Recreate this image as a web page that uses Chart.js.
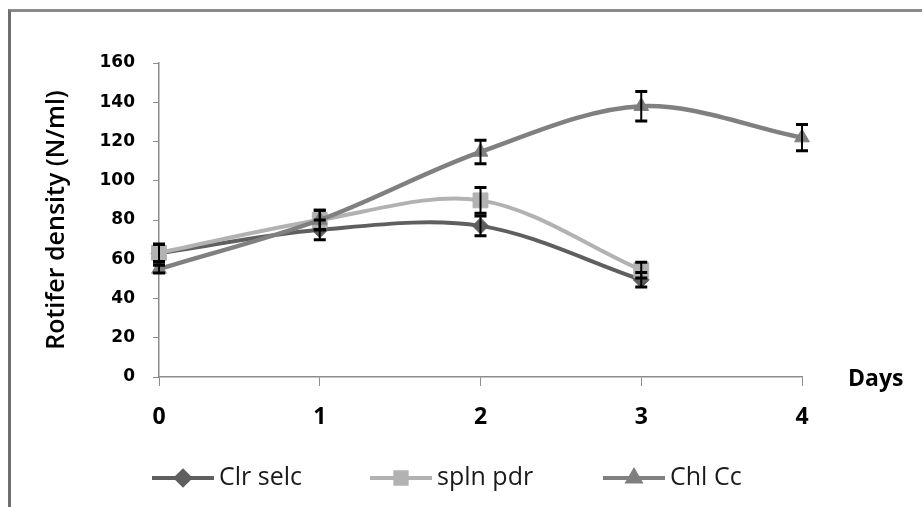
<!DOCTYPE html>
<html>
<head>
<meta charset="utf-8">
<script src="https://cdn.jsdelivr.net/npm/chart.js@4.4.1/dist/chart.umd.min.js"></script>
<style>
  html, body { margin:0; padding:0; background:#fff; }
  #wrap { position:relative; width:922px; height:507px; overflow:hidden; }
  #frame { position:absolute; left:8px; top:9px; width:1000px; height:600px;
           border-top:3px solid #8a8a8a; border-left:3px solid #6e6e6e; }
  #box { position:absolute; left:0; top:0; width:922px; height:507px; }
</style>
</head>
<body>
<div id="wrap">
  <div id="frame"></div>
  <div id="box"><canvas id="chart"></canvas></div>
</div>
<script>
// ─── Data ────────────────────────────────────────────────────────────
const days    = ['0', '1', '2', '3', '4'];
const clrSelc = [63, 75, 77, 49.5];
const clrErr  = [4.5, 5, 5, 3.7];
const splnPdr = [63.3, 80, 90, 54.5];
const splnErr = [4.5, 5, 6.5, 4];
const chlCc   = [55, 80, 114.7, 138, 122];
const chlErr  = [2, 5, 6, 7.5, 6.7];

const AXIS = '#8c8c8c';
const TXT  = '#000';

// ─── Error bars on every point ───────────────────────────────────────
const errorBars = {
  id: 'errorBars',
  afterDatasetsDraw(chart) {
    const ctx = chart.ctx, y = chart.scales.y;
    ctx.save();
    ctx.strokeStyle = '#000';
    chart.data.datasets.forEach((ds, i) => {
      const meta = chart.getDatasetMeta(i);
      (ds.errorBars || []).forEach((e, j) => {
        const pt = meta.data[j];
        if (!pt || ds.data[j] == null) return;
        const top = y.getPixelForValue(ds.data[j] + e);
        const bot = y.getPixelForValue(ds.data[j] - e);
        ctx.lineWidth = 2;
        ctx.beginPath(); ctx.moveTo(pt.x, top); ctx.lineTo(pt.x, bot); ctx.stroke();
        ctx.lineWidth = 3;
        ctx.beginPath();
        ctx.moveTo(pt.x - 6, top); ctx.lineTo(pt.x + 6, top);
        ctx.moveTo(pt.x - 6, bot); ctx.lineTo(pt.x + 6, bot);
        ctx.stroke();
      });
    });
    ctx.restore();
  }
};

// ─── Excel-style legend (line + marker) and the "Days" label ────────
const LEGEND_R = { rectRot: 7, rect: 8, triangle: 7 };
const extras = {
  id: 'extras',
  afterDraw(chart) {
    const ctx = chart.ctx;
    ctx.save();
    ctx.fillStyle = TXT;
    ctx.font = 'bold 23px "Open Sans"';
    ctx.textBaseline = 'alphabetic';
    ctx.textAlign = 'left';
    ctx.fillText('Days', 848, 386);

    const starts = [152, 370, 603];
    const ly = 478;
    chart.data.datasets.forEach((ds, i) => {
      const x0 = starts[i];
      ctx.strokeStyle = ds.borderColor;
      ctx.lineWidth = 4;
      ctx.beginPath(); ctx.moveTo(x0, ly); ctx.lineTo(x0 + 62, ly); ctx.stroke();
      ctx.fillStyle = ds.pointBackgroundColor;
      ctx.strokeStyle = ds.pointBackgroundColor;
      Chart.helpers.drawPoint(ctx, { pointStyle: ds.pointStyle, radius: LEGEND_R[ds.pointStyle], rotation: 0, borderWidth: 1 }, x0 + 31, ly);
      ctx.fillStyle = '#1a1a1a';
      ctx.font = '25px "Open Sans"';
      ctx.textBaseline = 'middle';
      ctx.fillText(ds.label, x0 + 67, ly);
    });
    ctx.restore();
  }
};

new Chart(document.getElementById('chart'), {
  type: 'line',
  data: {
    labels: days,
    datasets: [
      { label:'Clr selc', data:clrSelc, errorBars:clrErr, order:3,
        borderColor:'#5f5f5f', borderWidth:4, tension:0.33,
        pointStyle:'rectRot', pointRadius:8, pointBackgroundColor:'#5f5f5f', pointBorderColor:'#5f5f5f', pointBorderWidth:1 },
      { label:'spln pdr', data:splnPdr, errorBars:splnErr, order:2,
        borderColor:'#b2b2b2', borderWidth:4, tension:0.33,
        pointStyle:'rect', pointRadius:10.5, pointBackgroundColor:'#b2b2b2', pointBorderColor:'#b2b2b2', pointBorderWidth:1 },
      { label:'Chl Cc', data:chlCc, errorBars:chlErr, order:1,
        borderColor:'#808080', borderWidth:4.5, tension:0.33,
        pointStyle:'triangle', pointRadius:8.5, pointBackgroundColor:'#7f7f7f', pointBorderColor:'#7f7f7f', pointBorderWidth:1 },
    ]
  },
  options: {
    responsive: true,
    maintainAspectRatio: false,
    animation: false,
    layout: { padding: { top:63, right:120, bottom:0, left:0 } },
    plugins: { legend:{ display:false }, tooltip:{ enabled:false } },
    scales: {
      x: {
        offset: false,
        grid: { drawOnChartArea:false, drawTicks:true, tickLength:9, color:AXIS },
        border: { color:AXIS, width:1.5 },
        ticks: { color:TXT, font:{ family:'"Open Sans"', size:23, weight:'bold' }, padding:18, maxRotation:0 },
        afterFit(s) { s.height = 130; }
      },
      y: {
        min: 0, max: 160,
        grid: { drawOnChartArea:false, drawTicks:true, tickLength:6, color:AXIS },
        border: { color:AXIS, width:1.5 },
        ticks: { stepSize:20, color:TXT, font:{ family:'"DejaVu Sans"', size:17, weight:'bold' }, padding:18 },
        title: { display:true, text:'Rotifer density (N/ml)', color:TXT,
                 font:{ family:'"Open Sans"', size:25, weight:'600' }, padding:{ top:42, bottom:0 } },
        afterFit(s) { s.width = 159; }
      }
    }
  },
  plugins: [errorBars, extras]
});
</script>
</body>
</html>
